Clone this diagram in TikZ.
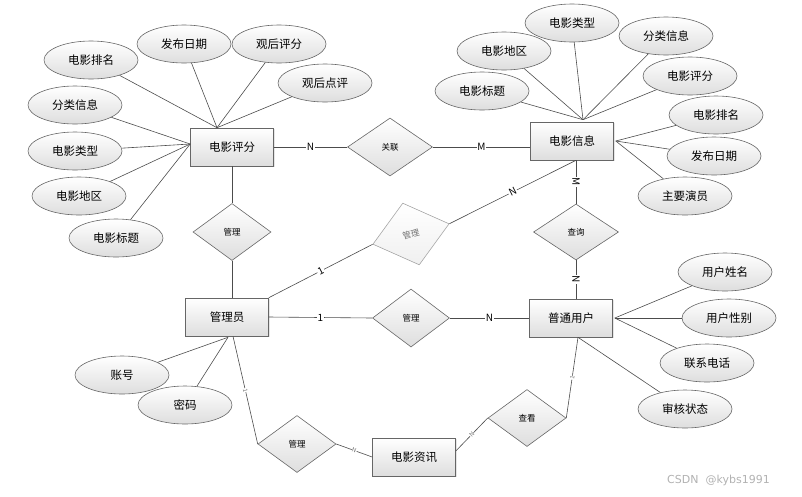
\documentclass[tikz,border=0pt]{standalone}
\usepackage{fontspec}
\setmainfont{Noto Sans CJK SC}
\newfontfamily\wmfont{DejaVu Sans}
\usetikzlibrary{shapes.geometric,calc,shadows}
\begin{document}
\begin{tikzpicture}[x=1pt,y=-1pt,
  base/.style={draw=black!60, line width=0.6pt, top color=white, bottom color=black!13},
  ent/.style={base, rectangle, minimum width=83pt, minimum height=38pt, inner sep=0pt,
    font=\fontsize{11.5}{13}\selectfont,
    drop shadow={shadow xshift=1pt,shadow yshift=-1pt,opacity=0.2}},
  attr/.style={base, ellipse, minimum width=94pt, minimum height=38pt, inner sep=0pt,
    font=\fontsize{11.5}{13}\selectfont},
  rel/.style={base, diamond, minimum width=78pt, minimum height=57pt, inner sep=0pt,
    font=\fontsize{8.5}{10}\selectfont},
  ln/.style={draw=black!70, line width=0.6pt},
  lab/.style={fill=white, inner sep=0.8pt, font=\fontsize{10}{10}\selectfont},
  slab/.style={fill=white, inner sep=0.3pt, text=black!55, font=\fontsize{6}{6}\selectfont, sloped},
]
\useasboundingbox (0,0) rectangle (802,496);

% entities
\node[ent] (pf) at (232,147) {电影评分};
\node[ent] (info) at (572,141) {电影信息};
\node[ent] (admin) at (227,317) {管理员};
\node[ent] (user) at (571,318) {普通用户};
\node[ent] (zx) at (414,457) {电影资讯};

% relations
\node[rel, minimum width=85pt, minimum height=58pt] (gl) at (390,147) {关联};
\node[rel] (gl1) at (232,232) {管理};
\node[rel, minimum width=85pt, minimum height=56pt] (cx) at (576,232) {查询};
\node[rel, minimum width=77pt, minimum height=58pt] (gl2) at (411,318) {管理};
\node[rel] (ck) at (527,418) {查看};
\node[rel] (gl3) at (297,444) {管理};
\node[rel, rotate=15, draw=black!35, text=black!55, bottom color=black!6,
  minimum width=79pt, minimum height=64pt] (gl4) at (411,234) {管理};

% attributes of 电影评分
\node[attr] (a1) at (91,60) {电影排名};
\node[attr] (a2) at (184,44) {发布日期};
\node[attr] (a3) at (279,44) {观后评分};
\node[attr] (a4) at (325,83) {观后点评};
\node[attr] (a5) at (75,105) {分类信息};
\node[attr] (a6) at (75,151) {电影类型};
\node[attr] (a7) at (79,196) {电影地区};
\node[attr] (a8) at (116,238) {电影标题};

% attributes of 电影信息
\node[attr] (b1) at (572,23) {电影类型};
\node[attr] (b2) at (504,51) {电影地区};
\node[attr] (b3) at (666,36) {分类信息};
\node[attr] (b4) at (690,76) {电影评分};
\node[attr] (b5) at (482,91) {电影标题};
\node[attr] (b6) at (716,115) {电影排名};
\node[attr] (b7) at (714,156) {发布日期};
\node[attr] (b8) at (685,196) {主要演员};

% attributes of 普通用户
\node[attr] (c1) at (725,272) {用户姓名};
\node[attr] (c2) at (729,318) {用户性别};
\node[attr] (c3) at (707,363) {联系电话};
\node[attr] (c4) at (685,409) {审核状态};

% attributes of 管理员
\node[attr] (d1) at (122,375) {账号};
\node[attr] (d2) at (185,405) {密码};

% junction points
\coordinate (pfT) at ($(pf.north)+(-15,0)$);
\coordinate (pfL) at ($(pf.west)+(0,-3)$);
\coordinate (infoT) at ($(info.north)+(11,-2)$);
\coordinate (infoR) at ($(info.east)+(2,0)$);
\coordinate (userR) at ($(user.east)+(2,0)$);
\coordinate (userB) at ($(user.south)+(7,0)$);
\coordinate (adminB) at ($(admin.south)+(1,1)$);
\coordinate (adminB2) at ($(admin.south)+(6,0)$);
\coordinate (zxR) at ($(zx.east)+(0,-6)$);

% attribute lines
\foreach \n in {a1,a2,a3,a4} \draw[ln] (\n) -- (pfT);
\foreach \n in {a5,a6,a7,a8} \draw[ln] (\n) -- (pfL);
\foreach \n in {b1,b2,b3,b4,b5} \draw[ln] (\n) -- (infoT);
\foreach \n in {b6,b7,b8} \draw[ln] (\n) -- (infoR);
\foreach \n in {c1,c2,c3} \draw[ln] (\n) -- (userR);
\draw[ln] (c4) -- (userB);
\foreach \n in {d1,d2} \draw[ln] (\n) -- (adminB);

% relationship lines
\draw[ln] (pf.east) -- node[lab]{N} (gl.west);
\draw[ln] (gl.east) -- node[lab]{M} (gl.east -| info.west);
\draw[ln] (pf.south) -- (gl1.north);
\draw[ln] (gl1.south) -- (gl1.south |- admin.north);
\draw[ln] (admin.north east) -- node[lab,sloped]{1} (gl4.west);
\draw[ln] (gl4.east) -- node[lab,sloped]{N} (cx.north |- info.south);
\draw[ln] (cx.north |- info.south) -- node[lab,sloped]{M} (cx.north);
\draw[ln] (cx.south) -- node[lab,sloped]{N} (cx.south |- user.north);
\draw[ln] (admin.east) -- node[lab]{1} (gl2.west);
\draw[ln] (gl2.east) -- node[lab]{N} (user.west);
\draw[ln] (adminB2) -- node[slab]{1} (gl3.west);
\draw[ln] (gl3.east) -- node[slab]{N} (zx.west);
\draw[ln] (zxR) -- node[slab]{N} (ck.west);
\draw[ln] (userB) -- node[slab]{1} (ck.east);

% watermark
\node[text=black!30, font=\wmfont\fontsize{11}{12}\selectfont, anchor=west, inner sep=0pt] (wm) at (667,480) {CSDN\ \ @kybs1991};
\end{tikzpicture}
\end{document}
